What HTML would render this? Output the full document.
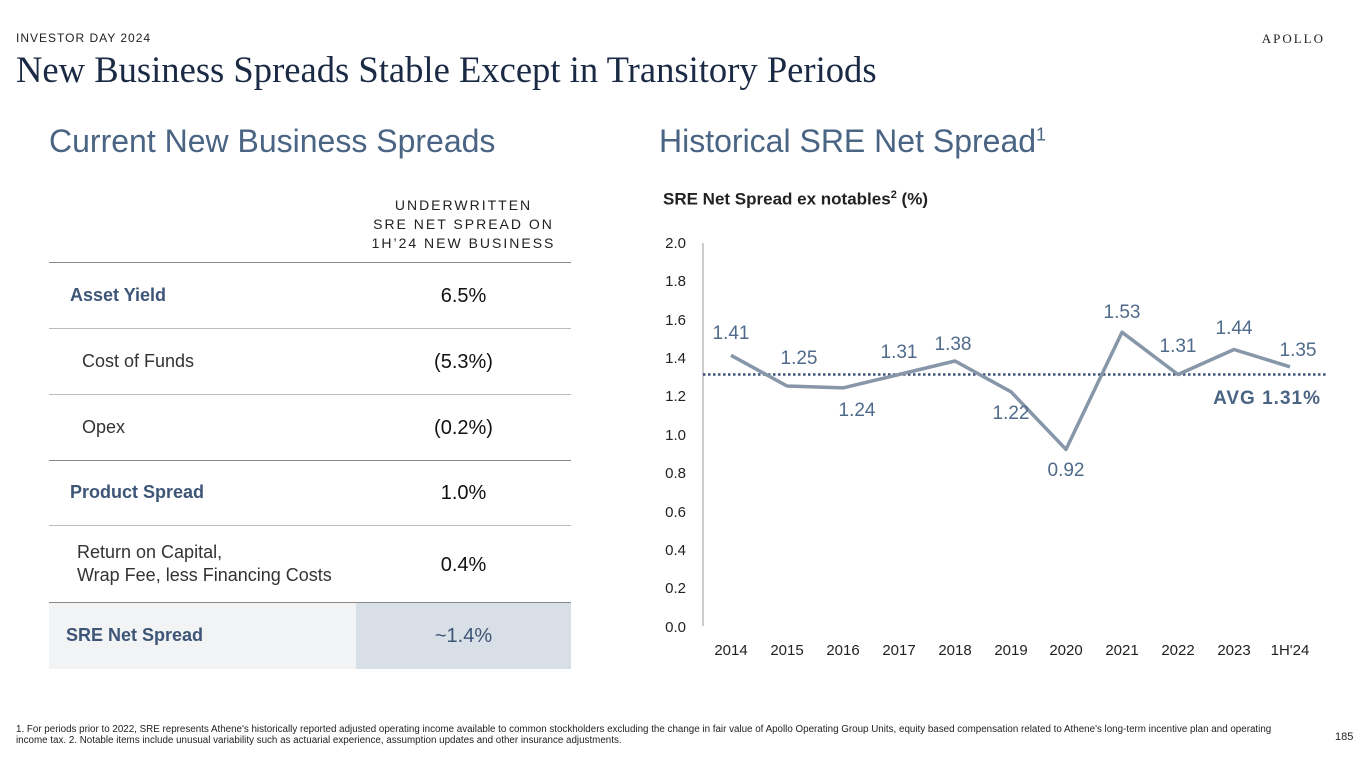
<!DOCTYPE html>
<html><head><meta charset="utf-8"><style>
body{margin:0;width:1365px;height:768px;background:#fff;position:relative;overflow:hidden;font-family:"Liberation Sans",sans-serif;color:#222}
.a{position:absolute;white-space:nowrap}
.lbl{font-size:18px;color:#3d4f66}
.val{font-size:20px;color:#111;text-align:center;width:215px;left:356px}
.hr{position:absolute;left:49px;width:522px;height:1px;background:#bbb}
</style></head><body>
<div class="a" style="left:16px;top:31px;font-size:12px;letter-spacing:1px;color:#222">INVESTOR DAY 2024</div>
<div class="a" style="right:40px;top:31px;font-size:13px;letter-spacing:2px;font-family:'Liberation Serif',serif;color:#222">APOLLO</div>
<div class="a" style="left:16px;top:48px;font-size:36.6px;font-family:'Liberation Serif',serif;color:#1b2a44">New Business Spreads Stable Except in Transitory Periods</div>
<div class="a" style="left:49px;top:123px;font-size:32px;color:#4a6484">Current New Business Spreads</div>
<div class="a" style="left:659px;top:123px;font-size:32px;color:#4a6484">Historical SRE Net Spread<sup style="font-size:18px">1</sup></div>
<div class="a" style="left:356px;width:215px;top:196px;text-align:center;font-size:14px;letter-spacing:2px;line-height:19px;color:#222">UNDERWRITTEN<br>SRE NET SPREAD ON<br>1H’24 NEW BUSINESS</div>
<div class="hr" style="top:262px;background:#888"></div>
<div class="a lbl" style="left:70px;top:285px;font-weight:bold;color:#3d5577">Asset Yield</div>
<div class="a val" style="top:285px">6.5%</div>
<div class="hr" style="top:328px"></div>
<div class="a lbl" style="left:82px;top:351px;color:#333">Cost of Funds</div>
<div class="a val" style="top:351px">(5.3%)</div>
<div class="hr" style="top:394px"></div>
<div class="a lbl" style="left:82px;top:417px;color:#333">Opex</div>
<div class="a val" style="top:417px">(0.2%)</div>
<div class="hr" style="top:460px;background:#888"></div>
<div class="a lbl" style="left:70px;top:482px;font-weight:bold;color:#3d5577">Product Spread</div>
<div class="a val" style="top:482px">1.0%</div>
<div class="hr" style="top:525px"></div>
<div class="a lbl" style="left:77px;top:541px;line-height:23px;color:#333">Return on Capital,<br>Wrap Fee, less Financing Costs</div>
<div class="a val" style="top:554px">0.4%</div>
<div class="hr" style="top:602px;background:#888"></div>
<div class="a" style="left:49px;top:603px;width:307px;height:66px;background:#f2f3f5"></div>
<div class="a" style="left:356px;top:603px;width:215px;height:66px;background:#d9dfe6"></div>
<div class="a lbl" style="left:66px;top:625px;font-weight:bold;color:#3d5577">SRE Net Spread</div>
<div class="a val" style="top:625px;color:#3d5577">~1.4%</div>
<div class="a" style="left:663px;top:189px;font-size:17px;font-weight:bold;color:#222">SRE Net Spread ex notables<sup style="font-size:11px">2</sup> (%)</div>
<svg class="a" style="left:0;top:0" width="1365" height="768" font-family="Liberation Sans,sans-serif">
<line x1="703" y1="243" x2="703" y2="626" stroke="#ccc" stroke-width="2"/>
<g font-size="15" fill="#222" text-anchor="end">
<text x="686" y="248">2.0</text><text x="686" y="286">1.8</text><text x="686" y="325">1.6</text><text x="686" y="363">1.4</text><text x="686" y="401">1.2</text><text x="686" y="440">1.0</text><text x="686" y="478">0.8</text><text x="686" y="517">0.6</text><text x="686" y="555">0.4</text><text x="686" y="593">0.2</text><text x="686" y="632">0.0</text></g>
<g font-size="15" fill="#222" text-anchor="middle">
<text x="731" y="655">2014</text><text x="787" y="655">2015</text><text x="843" y="655">2016</text><text x="899" y="655">2017</text><text x="955" y="655">2018</text><text x="1011" y="655">2019</text><text x="1066" y="655">2020</text><text x="1122" y="655">2021</text><text x="1178" y="655">2022</text><text x="1234" y="655">2023</text><text x="1290" y="655">1H'24</text></g>
<line x1="703" y1="374.5" x2="1326" y2="374.5" stroke="#3d5577" stroke-width="2.5" stroke-dasharray="2.5,2.5"/>
<polyline fill="none" stroke="#8796a8" stroke-width="3.5" stroke-linejoin="round" points="731,355.3 787,386 843,387.9 899,374.5 955,361 1011,391.8 1066,449.4 1122,332.2 1178,374.5 1234,349.5 1290,366.8"/>
<g font-size="19" fill="#4f6a8a" text-anchor="middle">
<text x="731" y="339">1.41</text><text x="799" y="364">1.25</text><text x="857" y="416">1.24</text><text x="899" y="358">1.31</text><text x="953" y="350">1.38</text><text x="1011" y="419">1.22</text><text x="1066" y="476">0.92</text><text x="1122" y="318">1.53</text><text x="1178" y="352">1.31</text><text x="1234" y="334">1.44</text><text x="1298" y="356">1.35</text></g>
<text x="1321" y="404" font-size="19" font-weight="bold" fill="#4a6484" text-anchor="end" letter-spacing="1">AVG 1.31%</text>
</svg>
<div class="a" style="left:16px;top:724px;font-size:9.8px;line-height:11px;color:#222;white-space:normal;width:1262px">1. For periods prior to 2022, SRE represents Athene's historically reported adjusted operating income available to common stockholders excluding the change in fair value of Apollo Operating Group Units, equity based compensation related to Athene's long-term incentive plan and operating income tax. 2. Notable items include unusual variability such as actuarial experience, assumption updates and other insurance adjustments.</div>
<div class="a" style="left:1335px;top:731px;font-size:11px">185</div>
</body></html>
